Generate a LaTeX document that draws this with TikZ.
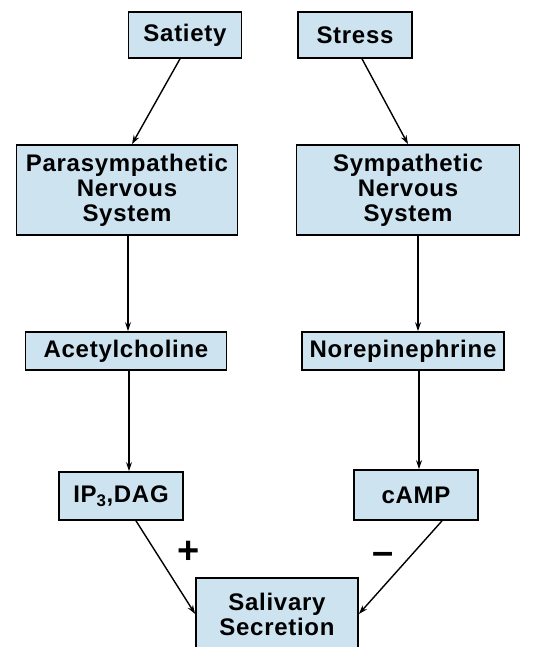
\documentclass[tikz,border=0pt]{standalone}
\usepackage{fontspec}
\setmainfont{Liberation Sans}[LetterSpace=3]
\usepackage{tikz}
\usetikzlibrary{arrows.meta}
\definecolor{boxblue}{RGB}{205,227,240}

\begin{document}
\begin{tikzpicture}[x=1pt,y=-1pt,>={Stealth[length=9pt,width=6pt]}]
	
	\tikzset{box/.style={draw, line width=1.7pt, fill=boxblue, align=center, inner sep=0pt, font=\fontsize{24}{25}\selectfont\bfseries}}
	\tikzset{link/.style={line width=1.4pt, ->}}
	
	\clip (0,0) rectangle (552,647);
	\fill[white] (0,0) rectangle (552,647);
	
	% stimuli
	\node[box, minimum width=113pt, minimum height=46pt] (sat) at (185,35) {Satiety};
	\node[box, minimum width=114pt, minimum height=46pt] (str) at (355,35) {Stress};
	
	% nervous systems
	\node[box, minimum width=221pt, minimum height=90pt] (para) at (127,190) {Parasympathetic\\Nervous\\System};
	\node[box, minimum width=223pt, minimum height=90pt] (symp) at (408,190) {Sympathetic\\Nervous\\System};
	
	% transmitters
	\node[box, minimum width=201pt, minimum height=38pt] (ach) at (126,351) {Acetylcholine};
	\node[box, minimum width=202pt, minimum height=38pt] (ne) at (403,351) {Norepinephrine};
	
	% second messengers
	\node[box, minimum width=124pt, minimum height=48pt] (ip) at (121,496) {IP\textsubscript{3},DAG};
	\node[box, minimum width=124pt, minimum height=50pt] (camp) at (416,495) {cAMP};
	
	% response
	\node[box, minimum width=162pt, minimum height=72pt] (sal) at (277,614) {Salivary\\Secretion};
	
	\draw[link] ([xshift=-5pt]sat.south) -- ([xshift=5pt]para.north);
	\draw[link] ([xshift=7pt]str.south) -- (symp.north);
	\draw[link] ([xshift=1pt]para.south) -- ([xshift=1pt]para.south |- ach.north);
	\draw[link] ([xshift=10pt]symp.south) -- ([xshift=10pt]symp.south |- ne.north);
	\draw[link] ([xshift=3pt]ach.south) -- ([xshift=3pt]ach.south |- ip.north);
	\draw[link] ([xshift=3pt]camp.north |- ne.south) -- ([xshift=3pt]camp.north);
	\draw[link] ([xshift=15pt]ip.south) -- (sal.west);
	\draw[link] ([xshift=26pt]camp.south) -- (sal.east);
	
	\node[font=\fontsize{38}{38}\selectfont\bfseries] at (189,552) {+};
	\node[font=\fontsize{38}{38}\selectfont\bfseries] at (383,558) {\symbol{"2013}};
	
\end{tikzpicture}
\end{document}
